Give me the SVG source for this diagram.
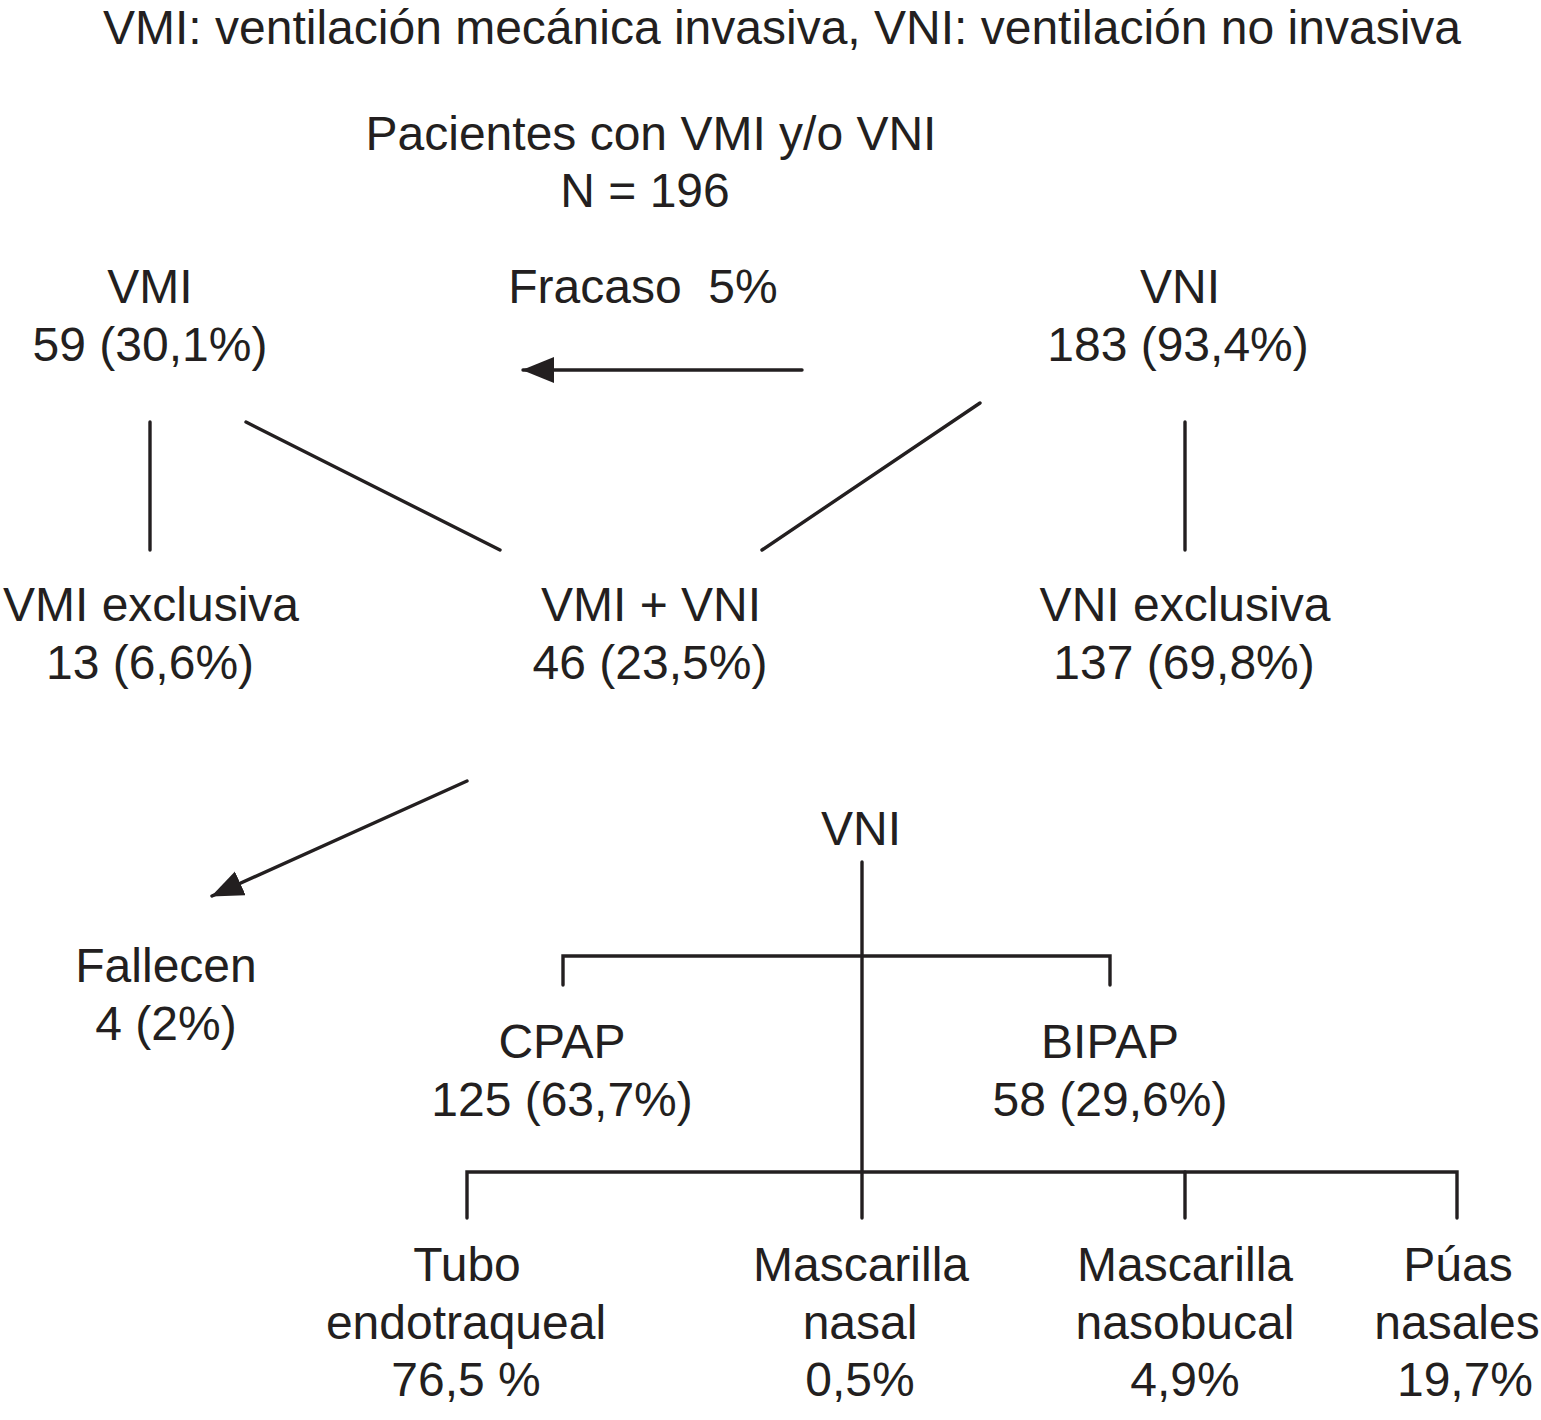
<svg xmlns="http://www.w3.org/2000/svg" width="1541" height="1420" viewBox="0 0 1541 1420">
<style>
text{font-family:"Liberation Sans",Arial,sans-serif;font-size:48px;fill:#231f20;text-anchor:middle;white-space:pre}
.c line,.c path{stroke:#231f20;stroke-width:3.4;fill:none;stroke-linecap:round}
</style>
<defs>
<marker id="ah" markerWidth="34" markerHeight="30" refX="31" refY="13" orient="auto" markerUnits="userSpaceOnUse">
<path d="M0,0 L32,13 L0,26 Z" fill="#231f20"/>
</marker>
</defs>
<rect width="1541" height="1420" fill="#fff"/>
<g id="title"><text x="782" y="44" font-size="48.5">VMI: ventilación mecánica invasiva, VNI: ventilación no invasiva</text></g>
<g id="root"><text x="651" y="150">Pacientes con VMI y/o VNI</text><text x="645" y="207">N = 196</text></g>
<g id="vmi"><text x="150" y="303">VMI</text><text x="150" y="361">59 (30,1%)</text></g>
<g id="fracaso"><text x="643" y="303" xml:space="preserve">Fracaso  5%</text></g>
<g id="vni"><text x="1180" y="303">VNI</text><text x="1178" y="361">183 (93,4%)</text></g>
<g id="vmiexcl"><text x="151" y="621">VMI exclusiva</text><text x="150" y="679">13 (6,6%)</text></g>
<g id="vmivni"><text x="651" y="621">VMI + VNI</text><text x="650" y="679">46 (23,5%)</text></g>
<g id="vniexcl"><text x="1185" y="621">VNI exclusiva</text><text x="1184" y="679">137 (69,8%)</text></g>
<g id="vni2"><text x="861" y="845">VNI</text></g>
<g id="fallecen"><text x="166" y="982">Fallecen</text><text x="166" y="1040">4 (2%)</text></g>
<g id="cpap"><text x="562" y="1058">CPAP</text><text x="562" y="1116">125 (63,7%)</text></g>
<g id="bipap"><text x="1110" y="1058">BIPAP</text><text x="1110" y="1116">58 (29,6%)</text></g>
<g id="tubo"><text x="467" y="1281">Tubo</text><text x="466" y="1339">endotraqueal</text><text x="466" y="1396">76,5 %</text></g>
<g id="mnasal"><text x="861" y="1281">Mascarilla</text><text x="860" y="1339">nasal</text><text x="860" y="1396">0,5%</text></g>
<g id="mnasobucal"><text x="1185" y="1281">Mascarilla</text><text x="1185" y="1339">nasobucal</text><text x="1185" y="1396">4,9%</text></g>
<g id="puas"><text x="1458" y="1281">Púas</text><text x="1457" y="1339">nasales</text><text x="1465" y="1396">19,7%</text></g>
<g id="connectors" class="c">
<line x1="802" y1="370" x2="523" y2="370" marker-end="url(#ah)"/>
<line x1="150" y1="422" x2="150" y2="550"/>
<line x1="246" y1="422" x2="500" y2="550"/>
<line x1="980" y1="403" x2="762" y2="550"/>
<line x1="1185" y1="422" x2="1185" y2="550"/>
<line x1="467" y1="781" x2="212" y2="896" marker-end="url(#ah)"/>
<line x1="862" y1="862" x2="862" y2="1218"/>
<path d="M563,985 V956 H1110 V985"/>
<path d="M467,1218 V1172 H1457 V1218"/>
<line x1="1185" y1="1172" x2="1185" y2="1218"/>
</g>
</svg>
